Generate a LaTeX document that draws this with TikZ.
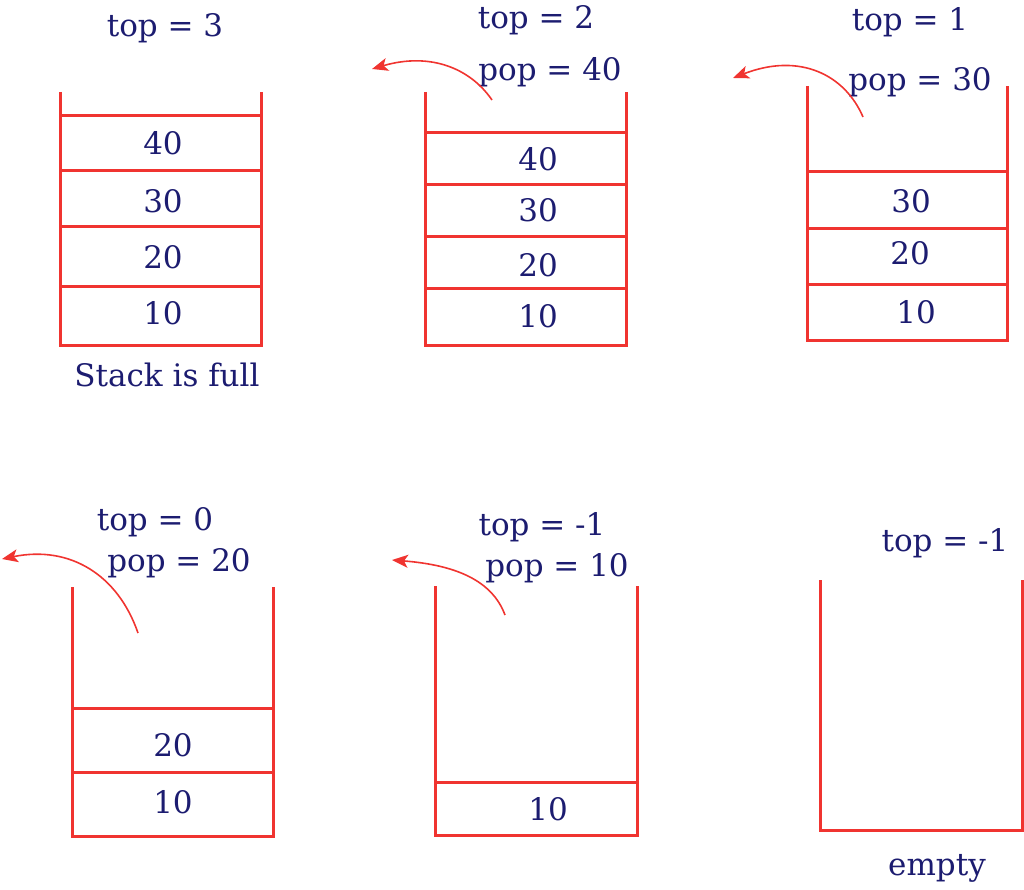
\documentclass[tikz,border=0pt]{standalone}
\usepackage{fontspec}
\setmainfont{DejaVu Serif}
\usetikzlibrary{arrows.meta}
\definecolor{stackred}{RGB}{240,52,48}
\definecolor{navy}{RGB}{28,28,112}
\tikzset{
  stk/.style={draw=stackred, line width=3pt},
  lbl/.style={text=navy, font=\fontsize{31}{34}\selectfont, inner sep=0pt, anchor=center},
  arr/.style={draw=stackred, line width=1.6pt, -{Stealth[length=16pt,width=13pt,inset=4pt]}}
}
\begin{document}
\begin{tikzpicture}[x=1pt,y=-1pt]
\useasboundingbox (0,0) rectangle (1024,890);
% ---- stack 1 (full)
\draw[stk] (60,92) -- (60,345) -- (261,345) -- (261,92);
\foreach \yy in {116,171,227,287} \draw[stk] (60,\yy) -- (261,\yy);
\node[lbl] (a40) at (163,143) {40};
\node[lbl] (a30) at (163,201) {30};
\node[lbl] (a20) at (163,257) {20};
\node[lbl] (a10) at (163,313) {10};
\node[lbl] (atop) at (165,28) {top = 3};
\node[lbl] (afull) at (167,375) {Stack is full};
% ---- stack 2
\draw[stk] (425,92) -- (425,345) -- (626,345) -- (626,92);
\foreach \yy in {133,185,237,289} \draw[stk] (425,\yy) -- (626,\yy);
\node[lbl] (b40) at (538,159) {40};
\node[lbl] (b30) at (538,210) {30};
\node[lbl] (b20) at (538,265) {20};
\node[lbl] (b10) at (538,316) {10};
\node[lbl] (btop) at (536,20) {top = 2};
\node[lbl] (bpop) at (550,72) {pop = 40};
\coordinate (bs) at (492,100);
\coordinate (be) at (372,69);
\draw[arr] (bs) .. controls (470,68) and (430,52) .. (be);
% ---- stack 3
\draw[stk] (807,86) -- (807,340) -- (1007,340) -- (1007,86);
\foreach \yy in {172,229,285} \draw[stk] (807,\yy) -- (1007,\yy);
\node[lbl] (c30) at (911,201) {30};
\node[lbl] (c20) at (910,253) {20};
\node[lbl] (c10) at (916,312) {10};
\node[lbl] (ctop) at (910,22) {top = 1};
\node[lbl] (cpop) at (920,82) {pop = 30};
\coordinate (cs) at (863,117);
\coordinate (ce) at (733,78);
\draw[arr] (cs) .. controls (845,75) and (800,52) .. (ce);
% ---- stack 4
\draw[stk] (72,587) -- (72,836) -- (273,836) -- (273,587);
\foreach \yy in {708,772} \draw[stk] (72,\yy) -- (273,\yy);
\node[lbl] (d20) at (173,745) {20};
\node[lbl] (d10) at (173,802) {10};
\node[lbl] (dtop) at (155,522) {top = 0};
\node[lbl] (dpop) at (179,563) {pop = 20};
\coordinate (ds) at (138,633);
\coordinate (de) at (2,559);
\draw[arr] (ds) .. controls (118,575) and (70,545) .. (de);
% ---- stack 5
\draw[stk] (435,586) -- (435,835) -- (637,835) -- (637,586);
\draw[stk] (435,782) -- (637,782);
\node[lbl] (e10) at (548,809) {10};
\node[lbl] (etop) at (542,527) {top = -1};
\node[lbl] (epop) at (557,568) {pop = 10};
\coordinate (es) at (505,615);
\coordinate (ee) at (392,560);
\draw[arr] (es) .. controls (492,580) and (455,565) .. (ee);
% ---- stack 6 (empty)
\draw[stk] (820,580) -- (820,830) -- (1022,830) -- (1022,580);
\node[lbl] (ftop) at (945,543) {top = -1};
\node[lbl] (fempty) at (937,868) {empty};
\end{tikzpicture}
\end{document}
